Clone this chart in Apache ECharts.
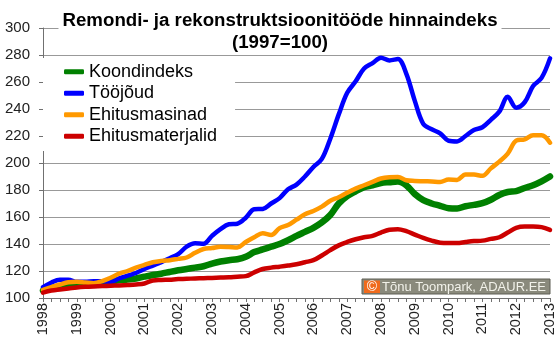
<!DOCTYPE html>
<html>
<head>
<meta charset="utf-8">
<script src="https://cdn.jsdelivr.net/npm/echarts@6/dist/echarts.min.js"></script>
<style>
html,body{margin:0;padding:0;background:#fff;}
#chart{width:560px;height:342px;}
</style>
</head>
<body>
<div id="chart"></div>
<script>
// Tick labels (years) — data is quarterly, 1998 Q1 .. 2013 Q1
var years = ['1998','1999','2000','2001','2002','2003','2004','2005','2006','2007','2008','2009','2010','2011','2012','2013'];

var seriesNames = ['Koondindeks', 'Tööjõud', 'Ehitusmasinad', 'Ehitusmaterjalid'];

var koondindeks = [105.5, 107.5, 108.5, 109.5, 110, 110.3, 110.6, 111, 112, 113.2,
  113.7, 114.5, 115.8, 117, 118, 119.3, 120.5, 121.5, 122.5, 123.5,
  125.5, 127, 128, 128.7, 130.5, 134, 136, 138, 140, 142.8,
  146, 149, 152, 156, 161.5, 170, 175.5, 179, 182, 183.5,
  185.2, 185.8, 186.3, 183.5, 177, 172.5, 170, 168.3, 166.5, 166.3,
  168, 169, 170.2, 172.8, 176.3, 178.5, 179.2, 181.5, 183.5, 186.4,
  190];

var toojoud = [108, 111.5, 113.5, 113.5, 112, 112, 112.5, 112.5, 112, 114.5,
  116.5, 118.5, 121.5, 124, 126.5, 129.5, 132.5, 138, 140.5, 140.2,
  146, 151, 154.6, 155, 159.5, 165.7, 166, 170, 174, 180.5,
  184, 190, 197, 203, 218, 236, 252, 260.5, 270, 274,
  278, 276, 277, 266, 246, 229, 225, 222, 216.5, 216,
  220, 224.5, 226.5, 232, 238, 249, 241, 245, 257, 263,
  277.5];

var ehitusmasinad = [106, 108, 110, 111.7, 112, 111.5, 111, 112.5, 115, 118,
  120, 122.5, 124.5, 126.5, 127.5, 128, 129, 130, 133.5, 136.3,
  137, 138, 137.8, 137.5, 141.5, 145, 148, 146.7, 151.8, 154,
  158, 162, 164.5, 167.7, 172, 174.7, 178, 181, 183.5, 186,
  188.5, 189.5, 189.7, 187.2, 186.7, 186.5, 186.3, 186, 187.7, 187.5,
  191.5, 191.4, 190.5, 196, 201, 207, 216.5, 217.5, 220.5, 220.5,
  215];

var ehitusmaterjalid = [104, 105.5, 106.3, 107, 107.8, 108.3, 108.6, 108.8, 109.1, 109.3,
  109.6, 110, 110.7, 113, 113.3, 113.6, 114, 114.2, 114.5, 114.7,
  114.9, 115.1, 115.3, 115.8, 116.2, 119, 121.5, 122.5, 123.2, 124,
  125, 126.5, 128, 131.5, 135.5, 139, 141.5, 143.5, 145, 146,
  148.5, 150.5, 151, 149.5, 147, 144.5, 142.5, 141, 140.7, 140.7,
  141.5, 142.2, 142.5, 143.8, 145, 148.5, 152, 153, 153, 152.5,
  150.5];

var colors = ['#008000', '#0000ff', '#ff9900', '#cc0000'];
var widths = [6.5, 4.5, 4.5, 4.5];

// Build quarterly category list from the year tick labels
var quarters = [];
for (var y = 0; y < years.length; y++) {
  for (var q = 1; q <= 4; q++) {
    if (y === years.length - 1 && q > 1) break;
    quarters.push(years[y] + ' Q' + q);
  }
}

var FONT = '"Liberation Sans", Arial, Helvetica, sans-serif';
var allData = [koondindeks, toojoud, ehitusmasinad, ehitusmaterjalid];

var chart = echarts.init(document.getElementById('chart'), null, {renderer: 'canvas'});
chart.setOption({
  animation: false,
  backgroundColor: '#ffffff',
  color: colors,
  title: {
    text: 'Remondi- ja rekonstruktsioonitööde hinnaindeks\n(1997=100)',
    left: 'center',
    top: 10.5,
    padding: [0, 4, 0, 4],
    backgroundColor: '#ffffff',
    textStyle: {
      fontFamily: FONT,
      fontSize: 18.7,
      fontWeight: 'bold',
      color: '#000000',
      lineHeight: 21.5
    },
    z: 5
  },
  legend: {
    orient: 'vertical',
    left: 43,
    top: 58,
    padding: [3, 18, 4, 21],
    itemGap: 0,
    itemWidth: 20,
    itemHeight: 5,
    icon: 'roundRect',
    backgroundColor: '#ffffff',
    data: seriesNames,
    textStyle: {
      fontFamily: FONT,
      fontSize: 18,
      color: '#000000',
      lineHeight: 21.5
    }
  },
  grid: {
    left: 43,
    right: 10,
    top: 28,
    bottom: 44,
    containLabel: false
  },
  xAxis: {
    type: 'category',
    data: quarters,
    boundaryGap: false,
    axisLine: {show: true, lineStyle: {color: '#707070', width: 1}},
    axisTick: {show: true, interval: 0, length: 4, lineStyle: {color: '#707070'}},
    splitLine: {show: false},
    axisLabel: {
      interval: 3,
      rotate: 90,
      margin: 5,
      fontFamily: FONT,
      fontSize: 14.5,
      color: '#222222',
      formatter: function (v) { return v.slice(0, 4); }
    }
  },
  yAxis: {
    type: 'value',
    min: 100,
    max: 300,
    interval: 20,
    axisLine: {show: true, lineStyle: {color: '#707070', width: 1}},
    axisTick: {show: true, length: 4, lineStyle: {color: '#707070'}},
    splitLine: {show: true, lineStyle: {color: '#999999', width: 1}},
    axisLabel: {
      margin: 13,
      fontFamily: FONT,
      fontSize: 15,
      color: '#222222'
    }
  },
  graphic: [
    {
      type: 'group',
      z: 10,
      children: [
        {type: 'rect', shape: {x: 362, y: 279, width: 188, height: 15},
         style: {fill: '#8a8a7c', stroke: '#5e5e54', lineWidth: 1}},
        {type: 'rect', shape: {x: 364, y: 280.5, width: 16, height: 12.5},
         style: {fill: '#f06a1c'}},
        {type: 'text', style: {x: 372, y: 287, text: '©', fill: '#ffffff',
          font: '14px ' + FONT, textAlign: 'center', textVerticalAlign: 'middle'}},
        {type: 'text', style: {x: 382, y: 287, text: 'Tõnu Toompark, ADAUR.EE', fill: '#f2f2ea',
          font: '13px ' + FONT, textAlign: 'left', textVerticalAlign: 'middle'}}
      ]
    }
  ],
  series: seriesNames.map(function (name, k) {
    return {
      name: name,
      type: 'line',
      data: allData[k],
      smooth: 0.35,
      showSymbol: false,
      symbol: 'none',
      lineStyle: {color: colors[k], width: widths[k], cap: 'round', join: 'round'},
      itemStyle: {color: colors[k]},
      z: 2 + k
    };
  })
});
</script>
</body>
</html>
